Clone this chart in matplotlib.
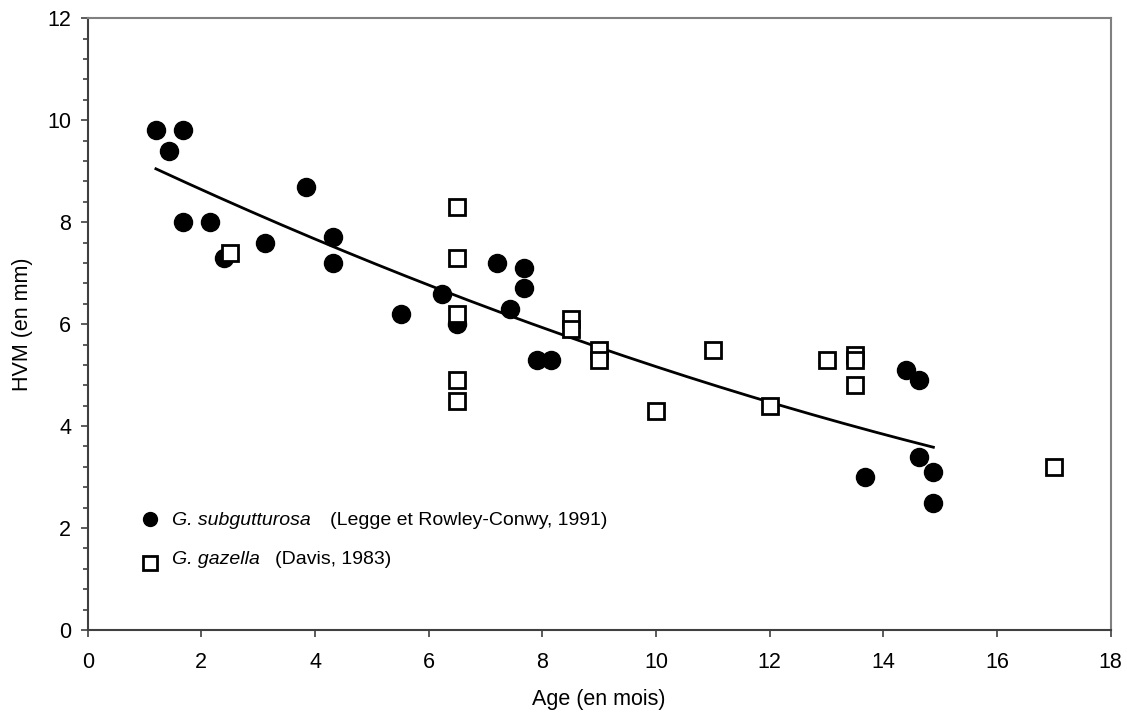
import matplotlib.pyplot as plt
import numpy as np
from matplotlib.ticker import MultipleLocator

plt.rcParams["font.family"] = ["Liberation Sans", "DejaVu Sans"]

# G. subgutturosa (filled circles)
sub_age = [1.20, 1.43, 1.67, 1.67, 2.15, 2.39, 3.12, 3.84, 4.32, 4.32, 5.51,
           6.23, 6.49, 7.20, 7.43, 7.68, 7.68, 7.91, 8.16, 13.68, 14.40,
           14.63, 14.63, 14.88, 14.88]
sub_hvm = [9.8, 9.4, 9.8, 8.0, 8.0, 7.3, 7.6, 8.7, 7.7, 7.2, 6.2,
           6.6, 6.0, 7.2, 6.3, 7.1, 6.7, 5.3, 5.3, 3.0, 5.1,
           4.9, 3.4, 3.1, 2.5]

# G. gazella (open squares)
gaz_age = [2.5, 6.5, 6.5, 6.5, 6.5, 6.5, 8.5, 8.5, 9.0, 9.0, 10.0, 11.0,
           12.0, 13.0, 13.5, 13.5, 13.5, 17.0]
gaz_hvm = [7.4, 8.3, 7.3, 6.2, 4.9, 4.5, 6.1, 5.9, 5.5, 5.3, 4.3, 5.5,
           4.4, 5.3, 5.4, 5.3, 4.8, 3.2]

fs = 15.5

fig = plt.figure(figsize=(11.27, 7.18), dpi=100)
ax = fig.add_axes([87.7 / 1127, (718 - 630) / 718, (1110.7 - 87.7) / 1127, (630 - 18.3) / 718])

ax.plot(sub_age, sub_hvm, "o", color="black", markersize=13, zorder=3)
ax.plot(gaz_age, gaz_hvm, "s", markerfacecolor="white", markeredgecolor="black",
        markersize=11.5, markeredgewidth=2.0, zorder=3)

# trend curve fitted on the subgutturosa data
coef = np.polyfit(sub_age, sub_hvm, 2)
xs = np.linspace(min(sub_age), max(sub_age), 200)
ax.plot(xs, np.polyval(coef, xs), color="black", lw=2, zorder=2)

ax.set_xlim(0, 18)
ax.set_ylim(0, 12)
ax.xaxis.set_major_locator(MultipleLocator(2))
ax.yaxis.set_major_locator(MultipleLocator(2))
ax.yaxis.set_minor_locator(MultipleLocator(0.4))
ax.tick_params(axis="both", which="major", direction="out", length=5, width=1.2,
               labelsize=fs, color="#404040")
ax.tick_params(axis="x", which="major", pad=11)
ax.tick_params(axis="y", which="major", pad=7)
ax.tick_params(axis="y", which="minor", direction="out", length=3.5, width=1.2, color="#404040")

for side in ["left", "bottom"]:
    ax.spines[side].set_color("#404040")
    ax.spines[side].set_linewidth(1.5)
for side in ["top", "right"]:
    ax.spines[side].set_color("#808080")
    ax.spines[side].set_linewidth(1.5)

ax.set_xlabel("Age (en mois)", fontsize=fs, labelpad=11)
ax.set_ylabel("HVM (en mm)", fontsize=fs, labelpad=10)

# legend drawn as text, like the original
lfs = 14
ax.plot([1.10], [2.18], "o", color="black", markersize=10)
ax.plot([1.10], [1.31], "s", markerfacecolor="white", markeredgecolor="black",
        markersize=9.5, markeredgewidth=2.0)
ax.text(1.48, 2.14, "G. subgutturosa", style="italic", fontsize=lfs, va="center")
ax.text(4.26, 2.14, "(Legge et Rowley-Conwy, 1991)", fontsize=lfs, va="center")
ax.text(1.48, 1.39, "G. gazella", style="italic", fontsize=lfs, va="center")
ax.text(3.30, 1.39, "(Davis, 1983)", fontsize=lfs, va="center")

fig.savefig("out.png", dpi=100)
